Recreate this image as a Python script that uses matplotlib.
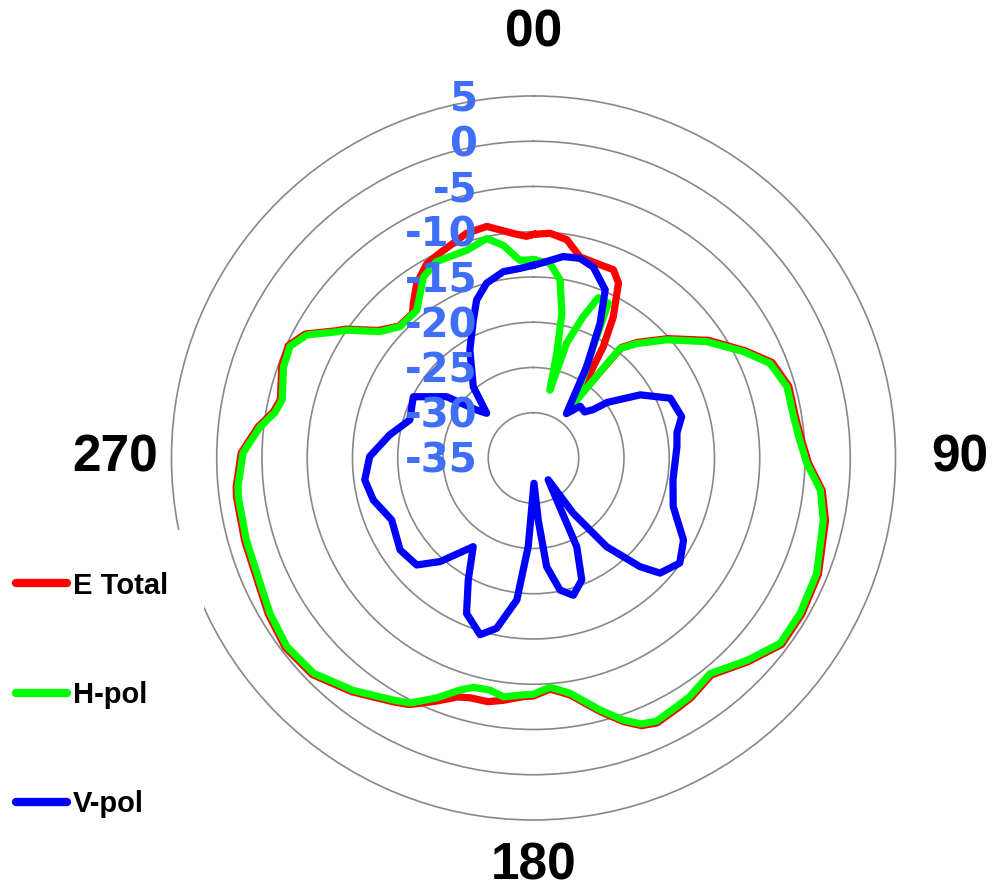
import numpy as np
import matplotlib
matplotlib.use('Agg')
import matplotlib.pyplot as plt
from matplotlib.transforms import offset_copy
from matplotlib.patches import Rectangle

# H-pol (deg, dB)
h_ang = [0, 4.8, 8.5, 11.1, 12.5, 13.6, 16.1, 19.3, 22, 25.8, 29.1, 33, 36.5, 38.3, 42,
         48.5, 56.1, 63.1, 68.2, 74.3, 81, 85.4, 91.1, 96.4, 102.1, 112.2, 120.2, 126.9,
         133.5, 140.7, 146.7, 150, 155, 158, 161.1, 165.2, 171.2, 175.9, 180, 182.5, 187.2,
         190.6, 194.7, 197.6, 202, 206.7, 210, 217.8, 225.6, 232.6, 239.5, 247.4, 254,
         262.5, 264.5, 271, 276.5, 280, 283, 290, 294.6, 298.5, 302.7, 304.4, 309.4, 314.5,
         317.4, 321.7, 328.7, 333.7, 342.2, 348, 352, 356, 360]
h_db = [-13.1, -13.4, -15.1, -18.7, -23.0, -27.3, -21.8, -18.5, -15.9, -16.0, -22.2, -25.5,
        -27.4, -19.6, -18.0, -15.3, -11.95, -9.0, -6.85, -5.9, -5.9, -5.6, -4.8, -3.1, -2.25,
        -1.2, -0.9, -0.9, -2.5, -4.2, -3.5, -3.3, -2.9, -3.3, -4.4, -6.2, -8.7, -9.6, -8.9,
        -8.8, -8.4, -8.9, -8.8, -8.1, -6.4, -4.7, -4.1, -2.5, -1.0, -0.7, -1.2, -1.9, -2.0,
        -2.1, -2.2, -2.9, -4.6, -6.0, -6.5, -5.6, -5.4, -6.5, -9.2, -10.0, -13.0, -14.3,
        -14.3, -14.2, -11.6, -10.8, -10.9, -10.2, -11.3, -13.1, -13.1]

# E Total
e_ang = [0, 4.2, 8.7, 13, 18, 23, 25.9, 29.5, 32.1, 33.7, 36.5, 38.5, 42,
         48.5, 56.1, 63.1, 68.2, 74.3, 81, 85.4, 91.1, 96.4, 102.1, 112.2, 120.2, 126.9,
         133.5, 140.7, 146.7, 150, 155, 158, 161.1, 165.2, 171.2, 175.9, 180, 182.5, 187.2,
         190.6, 194.7, 197.6, 202, 206.7, 210, 217.8, 225.6, 232.6, 239.5, 247.4, 254,
         262.5, 264.5, 271, 276.5, 280, 283, 290, 294.6, 298.5, 302.7, 304.4, 309.4, 314.5,
         317.4, 320, 322.2, 326.2, 331.3, 335.5, 343.4, 348.6, 354.9, 358.2, 360]
e_db = [-10.3, -10.1, -10.6, -12.2, -12.4, -12.4, -13.5, -17.1, -20.5, -23.75, -26.5, -19.4,
        -17.8, -15.1, -11.7, -8.8, -6.6, -5.7, -5.7, -5.4, -4.6, -2.9, -2.0,
        -1.0, -0.7, -0.7, -2.3, -4.0, -3.3, -3.1, -2.7, -3.1, -4.2, -6.0, -8.5, -9.4, -8.7,
        -8.6, -8.0, -7.6, -7.6, -7.3, -6.0, -4.5, -3.9, -2.3, -0.8, -0.5, -1.0, -1.7, -1.8,
        -1.9, -2.0, -2.7, -4.4, -5.8, -6.3, -5.4, -5.2, -6.3, -9.0, -9.8, -12.8, -14.2,
        -14.2, -14.2, -13.35, -11.8, -10.5, -10.1, -9.1, -8.9, -10.1, -10.5, -10.3]

# V-pol
v_ang = [0, 1.9, 8.4, 13.1, 17.4, 23.1, 26.3, 30.2, 36.6, 42, 48, 51, 53, 59.4, 66.4, 74.4,
         80, 85.5, 98.9, 109.2, 118.7, 125.7, 132.3, 135.6, 140.5, 144.3, 146, 154, 158.4,
         163.8, 168.6, 173.1, 175.6, 178.9, 183.4, 186.7, 192.2, 196.8, 203.3, 208.1, 214.2,
         222, 227.5, 235.4, 246.4, 255.3, 262.6, 270.5, 279.1, 287.1, 297, 305.2, 310.2,
         313.7, 319.8, 329.5, 336.4, 340.2, 345, 350.8, 355.9, 360]
v_db = [-13.7, -13.5, -12.5, -12.35, -12.9, -14.8, -18.4, -23.3, -28.9, -27.3, -27.4, -26.5,
        -24.8, -21.3, -18.5, -18.0, -18.9, -19.1, -19.4, -18.65, -16.1, -15.1, -16.1, -18.2,
        -22.3, -27.5, -32.1, -24.1, -20.5, -19.2, -20.1, -22.9, -28.1, -32.2, -25.2, -19.2,
        -15.75, -14.6, -16.3, -19.7, -23.15, -19.6, -17.5, -17.1, -17.9, -16.7, -16.2, -16.9,
        -18.9, -20.7, -20.1, -23.25, -26.8, -27.85, -24.7, -21.15, -18.4, -16.45, -15.0,
        -14.15, -14.0, -13.7]

rings = [-30, -25, -20, -15, -10, -5, 0]
r_labels = [5, 0, -5, -10, -15, -20, -25, -30, -35]
dir_labels = ['00', '90', '180', '270']
dir_angles = [0, 90, 180, 270]

fig = plt.figure(figsize=(9.98, 8.91), dpi=100)
ax = fig.add_axes([0.1718, 0.0797, 0.7255, 0.8126], projection='polar')
ax.set_theta_zero_location('N')
ax.set_theta_direction(-1)
ax.set_ylim(-35, 5)

l1, = ax.plot(np.deg2rad(e_ang), e_db, color='#ff0000', lw=5.2, solid_joinstyle='round', label='E Total')
l2, = ax.plot(np.deg2rad(h_ang), h_db, color='#00ff00', lw=5.2, solid_joinstyle='round', label='H-pol')
l3, = ax.plot(np.deg2rad(v_ang), v_db, color='#0000ff', lw=5.2, solid_joinstyle='round', label='V-pol')

ax.set_yticks(rings)
ax.set_yticklabels([])
ax.set_xticks([])
ax.yaxis.grid(True, color='#888888', lw=1.2)
ax.xaxis.grid(False)
ax.spines['polar'].set_color('#888888')
ax.spines['polar'].set_linewidth(1.2)
ax.set_facecolor('none')

# radial labels along the 0 direction, shifted left
trans = offset_copy(ax.transData, fig=fig, x=-56, y=-4, units='dots')
for v in r_labels:
    ax.text(0, v, str(v), transform=trans, ha='right', va='center',
            fontsize=29, fontweight='bold', color='#3f6ff7', family='DejaVu Sans')

dir_r = [12.0, 12.1, 10.1, 11.2]
for a, t, rr in zip(dir_angles, dir_labels, dir_r):
    ax.text(np.deg2rad(a), rr, t, ha='center', va='center', fontsize=37,
            fontweight='bold', family='Liberation Sans', clip_on=False)

# white block behind the legend (hides part of the outer rings)
fig.patches.append(Rectangle((0, 0.0685), 0.2044, 0.3365, transform=fig.transFigure,
                             facecolor='white', edgecolor='none', zorder=2))

leg = fig.legend(handles=[l1, l2, l3], loc='upper left', bbox_to_anchor=(0.004, 0.3715),
                 frameon=False,
                 prop={'family': 'Liberation Sans', 'weight': 'bold', 'size': 21},
                 handlelength=1.75, handletextpad=0.2, labelspacing=2.78, borderpad=0.4,
                 borderaxespad=0.0)
for h in leg.get_lines():
    h.set_linewidth(6)
    h.set_solid_capstyle('round')

fig.savefig('out.png', dpi=100, facecolor='white')
